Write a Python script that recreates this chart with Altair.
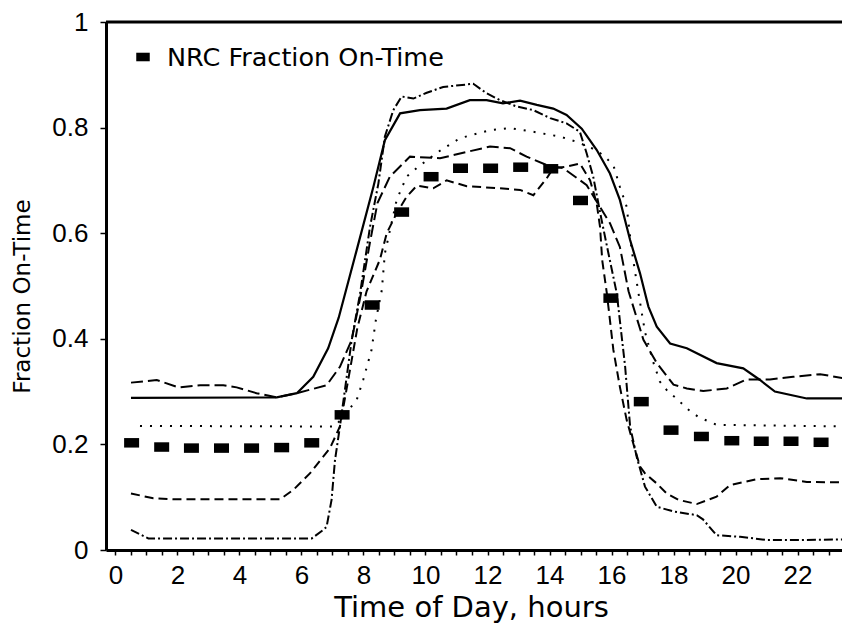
import altair as alt
import pandas as pd

# ---------------- data ----------------
sq_hour = [0.52, 1.49, 2.45, 3.42, 4.39, 5.36, 6.33, 7.31, 8.28, 9.23, 10.18, 11.13,
           12.1, 13.07, 14.04, 15.0, 15.98, 16.96, 17.92, 18.9, 19.88, 20.83, 21.79, 22.76]
sq_frac = [0.203, 0.195, 0.193, 0.193, 0.193, 0.194, 0.203, 0.256, 0.464, 0.640, 0.707, 0.723,
           0.723, 0.725, 0.722, 0.662, 0.477, 0.281, 0.227, 0.215, 0.207, 0.206, 0.206, 0.204]

solid_hour = [0.5, 5.2, 5.85, 6.38, 6.86, 7.2, 7.78, 8.32, 8.69, 9.18, 9.82, 10.68, 11.43, 11.97,
              12.5, 13.05, 13.59, 14.12, 14.55, 15.04, 15.52, 15.95, 16.27, 16.6, 16.92, 17.19,
              17.46, 17.89, 18.43, 19.39, 20.25, 20.79, 21.27, 22.3, 23.5]
solid_frac = [0.288, 0.289, 0.297, 0.328, 0.382, 0.44, 0.568, 0.688, 0.776, 0.827, 0.833, 0.836,
              0.852, 0.852, 0.846, 0.851, 0.843, 0.836, 0.824, 0.798, 0.758, 0.713, 0.663, 0.587,
              0.524, 0.461, 0.423, 0.391, 0.382, 0.354, 0.344, 0.322, 0.30, 0.287, 0.287]

dashdot_hour = [0.5, 1.06, 6.33, 6.7, 6.81, 6.97, 7.08, 7.24, 7.4, 7.62, 7.89, 8.21, 8.48, 8.69,
                8.96, 9.23, 9.61, 10.04, 10.57, 11.54, 11.97, 12.4, 12.94, 13.48, 14.02, 14.55,
                14.98, 15.2, 15.41, 15.68, 15.9, 16.17, 16.44, 16.6, 16.81, 17.08, 17.46, 18.0,
                18.75, 18.95, 19.39, 20.15, 21.0, 22.08, 23.5]
dashdot_frac = [0.038, 0.022, 0.022, 0.038, 0.044, 0.095, 0.17, 0.234, 0.303, 0.398, 0.486, 0.612,
                0.694, 0.783, 0.833, 0.859, 0.855, 0.866, 0.877, 0.883, 0.865, 0.852, 0.84, 0.833,
                0.818, 0.808, 0.792, 0.751, 0.707, 0.625, 0.562, 0.486, 0.347, 0.234, 0.177, 0.12,
                0.082, 0.073, 0.066, 0.058, 0.028, 0.025, 0.019, 0.019, 0.02]

dotted_hour = [0.79, 6.76, 7.08, 7.78, 7.99, 8.26, 8.4, 8.59, 8.69, 9.07, 9.39, 9.77, 10.41, 11.11,
               12.08, 12.73, 13.48, 14.34, 14.88, 15.4, 15.73, 16.06, 16.27, 16.49, 16.65, 16.86,
               17.08, 17.34, 17.56, 17.82, 18.1, 18.43, 18.8, 19.39, 23.5]
dotted_frac = [0.235, 0.234, 0.234, 0.284, 0.322, 0.379, 0.436, 0.492, 0.562, 0.663, 0.707, 0.726,
               0.754, 0.78, 0.795, 0.799, 0.792, 0.783, 0.773, 0.76, 0.748, 0.729, 0.688, 0.65,
               0.568, 0.49, 0.413, 0.357, 0.319, 0.30, 0.287, 0.268, 0.252, 0.237, 0.234]

dashA_hour = [0.5, 1.33, 2.03, 2.73, 3.48, 3.91, 4.55, 5.2, 5.85, 6.81, 7.24, 7.62, 7.9, 8.2, 8.45,
              8.85, 9.5, 10.47, 11.33, 12.08, 12.73, 13.26, 13.91, 14.45, 15.2, 15.95, 16.27,
              16.55, 17.03, 17.46, 18.0, 18.43, 18.96, 19.72, 20.36, 21.11, 21.86, 22.73, 23.5]
dashA_frac = [0.317, 0.322, 0.308, 0.312, 0.312, 0.308, 0.297, 0.289, 0.297, 0.312, 0.347, 0.398,
              0.48, 0.58, 0.657, 0.707, 0.745, 0.742, 0.754, 0.764, 0.761, 0.745, 0.729, 0.723,
              0.691, 0.619, 0.574, 0.49, 0.398, 0.354, 0.313, 0.306, 0.301, 0.306, 0.323, 0.323,
              0.328, 0.333, 0.325]

dashB_hour = [0.5, 1.22, 1.86, 5.31, 5.74, 6.27, 6.92, 7.24, 7.5, 7.8, 8.1, 8.53, 8.75, 9.07, 9.39,
              9.72, 10.25, 10.68, 11.33, 12.4, 13.05, 13.48, 13.91, 14.12, 14.55, 14.98, 15.31,
              15.52, 15.63, 15.7, 15.85, 16.06, 16.27, 16.49, 16.7, 16.92, 17.08, 17.46, 17.78,
              18.16, 18.75, 19.39, 19.82, 20.68, 21.44, 22.3, 23.5]
dashB_frac = [0.107, 0.098, 0.096, 0.096, 0.114, 0.145, 0.193, 0.234, 0.32, 0.42, 0.49, 0.55, 0.60,
              0.638, 0.669, 0.69, 0.685, 0.70, 0.689, 0.685, 0.682, 0.672, 0.704, 0.723, 0.726,
              0.732, 0.70, 0.657, 0.612, 0.549, 0.486, 0.379, 0.309, 0.246, 0.202, 0.158, 0.145,
              0.126, 0.107, 0.095, 0.087, 0.101, 0.123, 0.134, 0.136, 0.129, 0.128]

x_tick_values = [i * 0.5 for i in range(47)]
y_tick_values = [0, 0.2, 0.4, 0.6, 0.8, 1]
legend_label = "NRC Fraction On-Time"

# ---------------- chart ----------------
W, H = 736, 528
LABEL_FONT = "Liberation Sans"
TITLE_FONT = "DejaVu Sans"

x_scale = alt.Scale(domain=[-0.306, 23.435], nice=False, zero=False)
y_scale = alt.Scale(domain=[0, 1], nice=False, zero=False)

x_axis = alt.Axis(
    values=x_tick_values,
    labelExpr="datum.value % 2 == 0 ? format(datum.value, 'd') : ''",
    labelOverlap=False, labelFont=LABEL_FONT, labelFontSize=26, labelColor="black",
    labelPadding=7, labelFlush=False,
    tickSize=5, tickWidth=1.5, tickColor="black",
    domainWidth=3, domainColor="black", grid=False,
    title="Time of Day, hours", titleFont=TITLE_FONT, titleFontSize=29,
    titleFontWeight="normal", titleColor="black",
    titleX=365, titleY=66, titleBaseline="alphabetic", titleAnchor="middle",
)
y_axis = alt.Axis(
    values=y_tick_values, format="~g",
    labelFont=LABEL_FONT, labelFontSize=26, labelColor="black", labelPadding=12,
    labelFlush=False,
    tickSize=6, tickWidth=1.5, tickColor="black",
    domainWidth=3, domainColor="black", grid=False,
    title="Fraction On-Time", titleFont=TITLE_FONT, titleFontSize=23,
    titleFontWeight="normal", titleColor="black",
    titleAngle=270, titleX=-84, titleY=274, titleBaseline="middle", titleAlign="center",
)


def line_layer(hours, fracs, dash, width=2.0):
    df = pd.DataFrame({"hour": hours, "frac": fracs})
    kw = dict(color="black", strokeWidth=width, clip=True)
    if dash:
        kw["strokeDash"] = dash
    return alt.Chart(df).mark_line(**kw).encode(
        x=alt.X("hour:Q", scale=x_scale, axis=x_axis),
        y=alt.Y("frac:Q", scale=y_scale, axis=y_axis),
    )


layers = [
    line_layer(solid_hour, solid_frac, None, 2.2),
    line_layer(dashdot_hour, dashdot_frac, [9, 3, 2, 3]),
    line_layer(dotted_hour, dotted_frac, [2, 8]),
    line_layer(dashA_hour, dashA_frac, [12, 5]),
    line_layer(dashB_hour, dashB_frac, [9, 5]),
]

rect_shape = "M-1.5,-0.95H1.5V0.95H-1.5Z"
sq_df = pd.DataFrame({"hour": sq_hour, "frac": sq_frac})
squares = alt.Chart(sq_df).mark_point(
    shape=rect_shape, filled=True, color="black", opacity=1, size=100, strokeWidth=0
).encode(
    x=alt.X("hour:Q", scale=x_scale, axis=x_axis),
    y=alt.Y("frac:Q", scale=y_scale, axis=y_axis),
)

leg_df = pd.DataFrame({"label": [legend_label]})
leg_sym = alt.Chart(leg_df).mark_point(
    shape=rect_shape, filled=True, color="black", opacity=1, size=81, strokeWidth=0
).encode(x=alt.value(37), y=alt.value(35))
leg_txt = alt.Chart(leg_df).mark_text(
    align="left", baseline="middle", font=TITLE_FONT, fontSize=25.5, color="black"
).encode(x=alt.value(61), y=alt.value(36), text="label:N")

top_border = alt.Chart(leg_df).mark_rule(color="black", strokeWidth=3).encode(
    x=alt.value(0), x2=alt.value(W), y=alt.value(0)
)

chart = alt.layer(*layers, squares, leg_sym, leg_txt, top_border).properties(
    width=W, height=H,
    autosize=alt.AutoSizeParams(type="none"),
    padding={"left": 106, "top": 22, "right": 0, "bottom": 85},
    background="white",
).configure_view(stroke=None)

chart.save("out.html", embed_options={"renderer": "svg", "actions": False})
